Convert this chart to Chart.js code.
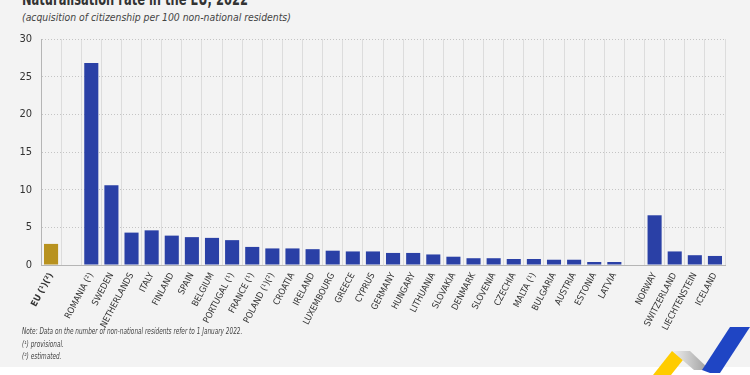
<!DOCTYPE html>
<html>
<head>
<meta charset="utf-8">
<script src="https://cdn.jsdelivr.net/npm/chart.js@4"></script>
<style>
  html, body { margin: 0; padding: 0; }
  body { width: 750px; height: 375px; background: #fff; position: relative; overflow: hidden;
         font-family: 'Liberation Sans Narrow', 'DejaVu Sans Condensed', sans-serif; color: #333; }
  #panel { position: absolute; left: 0; top: 0; width: 750px; height: 367px; background: #f3f3f3; }
  #chart { position: absolute; left: 0; top: 0; }
  .title { position: absolute; left: 22px; top: -11px; font-size: 17px; font-weight: bold; line-height: 20px; color: #333;
           white-space: nowrap; transform: scaleX(0.75); transform-origin: left top; }
  .subtitle { position: absolute; left: 22px; top: 11px; font-size: 11px; font-style: italic; line-height: 14px; color: #444;
              white-space: nowrap; transform: scaleX(0.94); transform-origin: left top; }
  .note { position: absolute; left: 22px; font-size: 8px; font-style: italic; line-height: 10px; color: #444;
          white-space: nowrap; transform: scaleX(0.8); transform-origin: left top; }
  #logo { position: absolute; left: 640px; top: 320px; }
</style>
</head>
<body>
<div id="panel"></div>
<div class="title">Naturalisation rate in the EU, 2022</div>
<div class="subtitle">(acquisition of citizenship per 100 non-national residents)</div>
<canvas id="chart" width="750" height="375"></canvas>
<div class="note" style="top:327px">Note: Data on the number of non-national residents refer to 1 January 2022.</div>
<div class="note" style="top:340px">(¹) provisional.</div>
<div class="note" style="top:352px">(²) estimated.</div>
<svg id="logo" width="110" height="55" viewBox="0 0 110 55">
  <defs>
    <linearGradient id="g1" x1="0" y1="0" x2="1" y2="0">
      <stop offset="0" stop-color="#f0f0f0"/>
      <stop offset="1" stop-color="#9a9a9a"/>
    </linearGradient>
  </defs>
  <polygon points="13,55 32,31 50,31 31,55" fill="#ffcc00"/>
  <polygon points="32,31 50,31 70,50 54,50" fill="url(#g1)"/>
  <polygon points="62,50 90,7 110,7 80,53 70,53" fill="#1f45c4"/>
</svg>

<script>
// kategoriyalar ('' = bo'sh oraliq)
const labels = [
    'EU (¹)(²)', '',
    'ROMANIA (²)', 'SWEDEN', 'NETHERLANDS', 'ITALY', 'FINLAND', 'SPAIN', 'BELGIUM',
    'PORTUGAL (¹)', 'FRANCE (¹)', 'POLAND (¹)(²)', 'CROATIA', 'IRELAND', 'LUXEMBOURG',
    'GREECE', 'CYPRUS', 'GERMANY', 'HUNGARY', 'LITHUANIA', 'SLOVAKIA', 'DENMARK',
    'SLOVENIA', 'CZECHIA', 'MALTA (¹)', 'BULGARIA', 'AUSTRIA', 'ESTONIA', 'LATVIA', '',
    'NORWAY', 'SWITZERLAND', 'LIECHTENSTEIN', 'ICELAND'
];

const rates = [
    2.8, null,
    26.8, 10.6, 4.3, 4.6, 3.9, 3.7, 3.6,
    3.3, 2.4, 2.2, 2.2, 2.1, 1.9,
    1.8, 1.8, 1.6, 1.6, 1.4, 1.1, 0.9,
    0.9, 0.8, 0.8, 0.7, 0.7, 0.4, 0.4, null,
    6.6, 1.8, 1.3, 1.2
];

const yTicks = [0, 5, 10, 15, 20, 25, 30];

const BLUE = '#2a40a6';
const GOLD = '#b8921f';
const FONT = "'Liberation Sans Narrow', 'DejaVu Sans Condensed', sans-serif";

Chart.defaults.font.family = FONT;
Chart.defaults.color = '#333';
Chart.defaults.animation = false;

new Chart(document.getElementById('chart'), {
    type: 'bar',
    data: {
        labels: labels,
        datasets: [{
            data: rates,
            backgroundColor: labels.map((l, i) => i === 0 ? GOLD : BLUE),
            categoryPercentage: 1,
            barPercentage: 0.7,
        }]
    },
    options: {
        responsive: false,
        devicePixelRatio: 1,
        layout: { padding: { top: 39, right: 25, left: 0, bottom: 0 } },
        plugins: { legend: { display: false }, tooltip: { enabled: false } },
        scales: {
            x: {
                grid: { color: '#dcdcdc', drawTicks: false, offset: true },
                border: { color: '#b5b5b5' },
                ticks: {
                    autoSkip: false,
                    minRotation: 62,
                    maxRotation: 62,
                    padding: 6,
                    color: '#333',
                    font: ctx => ({ size: 9, weight: ctx.index === 0 ? 'bold' : 'normal' }),
                },
                afterFit: s => { s.height = 110; },
            },
            y: {
                min: 0,
                max: 30,
                afterBuildTicks: s => { s.ticks = yTicks.map(v => ({ value: v })); },
                grid: { color: '#c4c4c4', drawTicks: false },
                border: { color: '#b5b5b5', dash: [1, 2] },
                ticks: { padding: 9, font: { size: 11 }, color: '#333' },
                afterFit: s => { s.width = 41; },
            },
        },
    },
});
</script>
</body>
</html>
